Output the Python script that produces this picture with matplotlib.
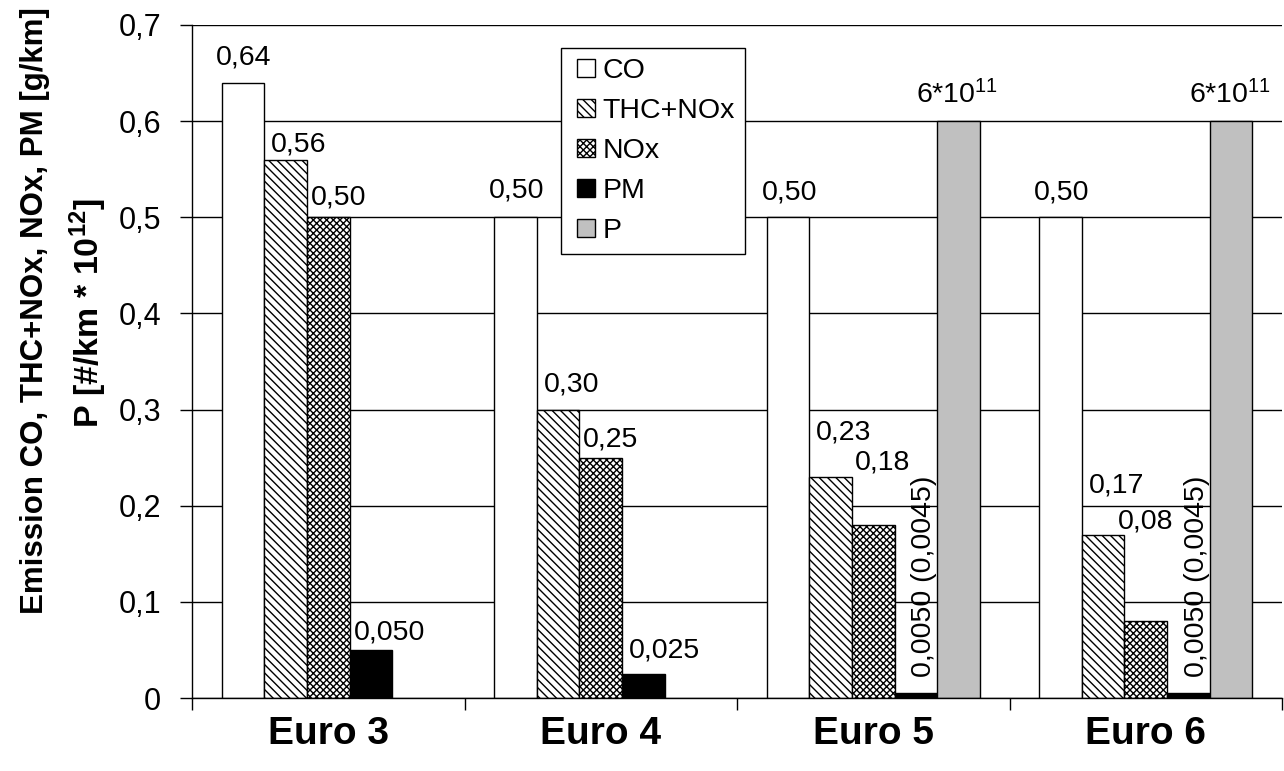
import numpy as np
import matplotlib
matplotlib.use("Agg")
import matplotlib.pyplot as plt
from matplotlib.patches import Rectangle, Patch
from matplotlib.legend_handler import HandlerPatch

plt.rcParams["font.family"] = ["Liberation Sans", "DejaVu Sans"]
plt.rcParams["mathtext.default"] = "regular"
plt.rcParams["hatch.linewidth"] = 1.0

# ---- data -------------------------------------------------------------
categories = ["Euro 3", "Euro 4", "Euro 5", "Euro 6"]
series_names = ["CO", "THC+NOx", "NOx", "PM", "P"]

co = [0.64, 0.50, 0.50, 0.50]
thc_nox = [0.56, 0.30, 0.23, 0.17]
nox = [0.50, 0.25, 0.18, 0.08]
pm = [0.050, 0.025, 0.0050, 0.0050]
pm_alt = [None, None, 0.0045, 0.0045]
p_count = [None, None, 0.6, 0.6]   # particle number in 10^12 #/km

co_dec = [2, 2, 2, 2]
thc_dec = [2, 2, 2, 2]
nox_dec = [2, 2, 2, 2]
pm_dec = [3, 3, 4, 4]

y_ticks = [0.0, 0.1, 0.2, 0.3, 0.4, 0.5, 0.6, 0.7]

# ---- styling ----------------------------------------------------------
styles = {
    "CO": dict(facecolor="white", hatch=None),
    "THC+NOx": dict(facecolor="white", hatch="\\\\\\\\"),
    "NOx": dict(facecolor="white", hatch="xxxxx"),
    "PM": dict(facecolor="black", hatch=None),
    "P": dict(facecolor="#c0c0c0", hatch=None),
}

# label offsets from the bar top, in pixels (dx right, dy up)
label_offsets = {
    "CO": [(0, 17.7), (1, 19.3), (1, 17.3), (1, 17.3)],
    "THC+NOx": [(13, 7.6), (13, 17.6), (13, 37), (13, 41.6)],
    "NOx": [(10, 12.3), (10, 11.6), (9, 55), (0, 93)],
    "PM": [(19, 10), (21, 16), (8, 16), (9, 16)],
    "P": [None, None, (-1, 18), (-1, 18)],
}

PX = 0.72  # points per pixel at 100 dpi
FS = 20.5


def fmt(v, dec):
    return f"{v:.{dec}f}".replace(".", ",")


fig = plt.figure(figsize=(12.84, 7.71), dpi=100)
ax = fig.add_axes([192 / 1284, 73 / 771, 1090 / 1284, 673 / 771])

x = np.arange(len(categories))
w = 0.156

series_vals = {"CO": co, "THC+NOx": thc_nox, "NOx": nox, "PM": pm, "P": p_count}
handles = []
for i, name in enumerate(series_names):
    vals = series_vals[name]
    st = styles[name]
    idx = [k for k, v in enumerate(vals) if v is not None]
    xs = x[idx] + (i - 2) * w
    hs = [vals[k] for k in idx]
    ax.bar(xs, hs, w, facecolor=st["facecolor"], edgecolor="black",
           hatch=st["hatch"], linewidth=1.0, zorder=3)
    handles.append(Patch(facecolor=st["facecolor"], edgecolor="black",
                         hatch=st["hatch"], linewidth=1.0, label=name))

# value labels
for i, name in enumerate(series_names):
    vals = series_vals[name]
    for k, v in enumerate(vals):
        if v is None:
            continue
        dx, dy = label_offsets[name][k]
        xc = x[k] + (i - 2) * w
        if name == "P":
            txt = f"{v * 10:.0f}*10$^{{11}}$"
        elif name == "PM":
            txt = fmt(v, pm_dec[k])
            if pm_alt[k] is not None:
                txt += f" ({fmt(pm_alt[k], 4)})"
        else:
            dec = {"CO": co_dec, "THC+NOx": thc_dec, "NOx": nox_dec}[name][k]
            txt = fmt(v, dec)
        if name == "PM" and pm_alt[k] is not None:
            ax.annotate(txt, xy=(xc, v), xytext=(dx * PX, dy * PX),
                        textcoords="offset points", rotation=90,
                        rotation_mode="anchor", ha="left", va="center",
                        fontsize=FS, zorder=5)
        else:
            ax.annotate(txt, xy=(xc, v), xytext=(dx * PX, dy * PX),
                        textcoords="offset points", ha="center",
                        va="baseline", fontsize=FS, zorder=5)

# axes
ax.set_xlim(-0.5, len(categories) - 0.5)
ax.set_ylim(0, 0.7)
ax.set_yticks(y_ticks)
ax.set_yticklabels(["0" if t == 0 else fmt(t, 1) for t in y_ticks], fontsize=22)
ax.yaxis.grid(True, color="black", linewidth=1.0)
ax.set_axisbelow(True)
ax.tick_params(axis="y", length=12 * PX, width=1.0, direction="out",
               pad=19 * PX, colors="black")

ax.set_xticks(x)
ax.set_xticklabels(categories, fontsize=28, fontweight="bold")
ax.set_xticks(np.arange(-0.5, len(categories), 1.0), minor=True)
ax.tick_params(axis="x", which="major", length=0, pad=18 * PX)
ax.tick_params(axis="x", which="minor", length=12 * PX, width=1.0,
               direction="out")

for s in ("top", "right"):
    ax.spines[s].set_visible(False)
for s in ("left", "bottom"):
    ax.spines[s].set_linewidth(1.0)
    ax.spines[s].set_color("black")
    ax.spines[s].set_zorder(4)

# y-axis title on two lines
fig.text(35 / 1284, 1 - 311 / 771, "Emission CO, THC+NOx, NOx, PM [g/km]",
         rotation=90, ha="center", va="center", fontsize=22.5,
         fontweight="bold")
fig.text(88 / 1284, 1 - 313 / 771, "P [#/km * 10$^{12}$]",
         rotation=90, ha="center", va="center", fontsize=24.5,
         fontweight="bold")


# legend with small square swatches
def square_patch(legend, orig_handle, xdescent, ydescent, width, height,
                 fontsize):
    s = 18 * PX
    return Rectangle(((width - s) / 2 - xdescent, (height - s) / 2 - ydescent),
                     s, s)


leg = ax.legend(handles=handles, loc="upper left",
                bbox_to_anchor=((561 - 192) / 1090, (698 - 48) / 673),
                borderaxespad=0, fontsize=FS, frameon=True, fancybox=False,
                edgecolor="black", framealpha=1, borderpad=0.35,
                labelspacing=0.49, handlelength=1.05, handleheight=0.7,
                handletextpad=0.07,
                handler_map={Patch: HandlerPatch(patch_func=square_patch)})
leg.get_frame().set_linewidth(1.0)
leg.set_zorder(6)

fig.savefig("out.png", dpi=100)
